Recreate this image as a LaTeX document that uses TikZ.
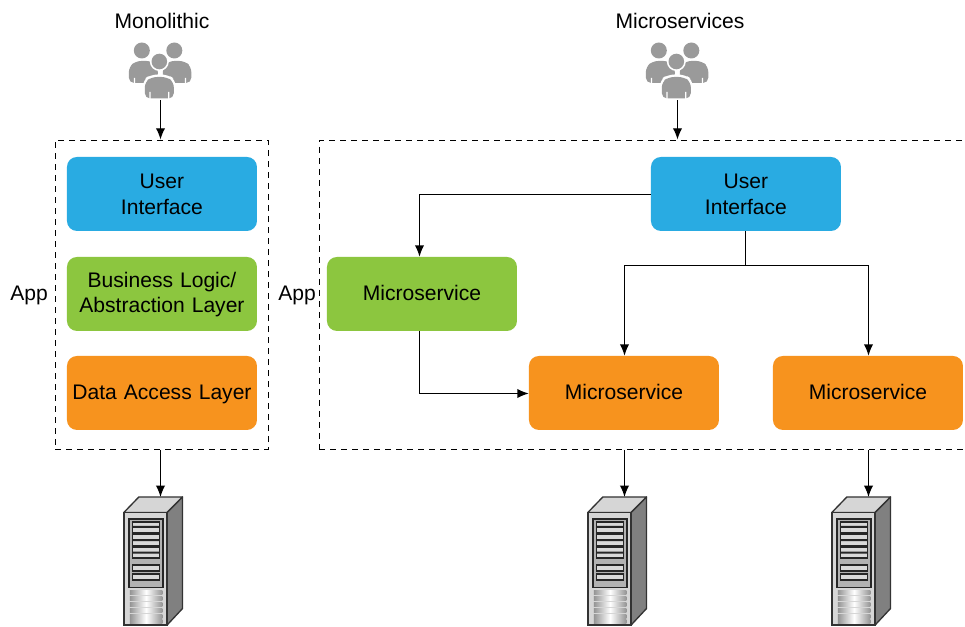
\documentclass[tikz,border=0pt]{standalone}
\usepackage{fontspec}
\setmainfont{Liberation Sans}
\usetikzlibrary{arrows.meta}
\definecolor{bl}{HTML}{29ABE2}
\definecolor{gr}{HTML}{8CC63F}
\definecolor{or}{HTML}{F7931E}
\definecolor{ug}{HTML}{9A9A9A}
\tikzset{
 x=0.75pt,y=-0.75pt,
 every node/.style={font=\fontsize{15.8pt}{19.5pt}\selectfont,align=center,text=black},
 box/.style={rounded corners=7.5pt,minimum width=142.5pt,minimum height=55.5pt,inner sep=0pt,anchor=north west,text width=140pt},
 oneline/.style={text height=12.5pt,text depth=3.4pt},
 lab/.style={inner sep=0pt},
 anchorbox/.style={inner sep=0pt,minimum size=0pt},
 frame/.style={draw=black,dash pattern=on 4.5pt off 3.75pt,line width=0.9pt},
 conn/.style={draw=black,line width=1pt,-{Latex[length=8.5pt,width=7pt]}},
 plainconn/.style={draw=black,line width=1pt},
 pics/crowd/.style={code={
  \fill[ug] (-18,-19.5) circle (8);
  \fill[ug] (14.5,-19.5) circle (8);
  \fill[ug,rounded corners=4pt] (-31,13) -- (-31,-3) -- (-24,-9) -- (-8,-9) -- (-2,-3) -- (-2,13) -- cycle;
  \fill[ug,rounded corners=4pt] (31.5,13) -- (31.5,-3) -- (25,-9) -- (9,-9) -- (3,-3) -- (3,13) -- cycle;
  \fill[white] (-0.5,-8.5) circle (9.5);
  \fill[ug] (-0.5,-8.5) circle (7.8);
  \fill[white,rounded corners=5pt] (-17,30) -- (-17,10) -- (-9,4.5) -- (8,4.5) -- (16,10) -- (16,30) -- cycle;
  \fill[ug,rounded corners=4pt] (-15,28.5) -- (-15,12) -- (-8,7) -- (7,7) -- (14,12) -- (14,28.5) -- cycle;
  \fill[white] (-10.5,22) rectangle (-9.3,29) (8.3,22) rectangle (9.5,29);
  \fill[white] (-26,8) rectangle (-24.8,14) (25,8) rectangle (26.2,14);
 }},
 pics/tower/.style={code={
  \filldraw[fill=black!16,draw=black!80,line width=1pt,line join=round] (-36,15.5) -- (-21,0) -- (22.7,0) -- (7.3,15.5) -- cycle;
  \filldraw[fill=black!50,draw=black!80,line width=1pt,line join=round] (7.3,15.5) -- (22.7,0) -- (22.7,111.5) -- (7.3,128) -- cycle;
  \filldraw[fill=black!16,draw=black!80,line width=1.3pt] (-36,15.5) rectangle (7.3,128);
  \filldraw[fill=black!30,draw=black!85,line width=1pt] (-31,22) rectangle (3.3,90.5);
  \foreach \a/\b in {25/36,37.5/48.5,50/61,68/74,77/83}{
   \filldraw[fill=black!15,draw=black!85,line width=0.9pt] (-27.5,\a) rectangle (0,\b);
  }
  \fill[black!85] (-27.5,29) rectangle (0,31) (-27.5,42) rectangle (0,44) (-27.5,54.5) rectangle (0,56.5);
  \foreach \a in {93,99,105,111,117,122.5}{
   \fill[left color=black!42,right color=black!42,middle color=white] (-30,\a) rectangle (2.5,\a+4);
  }
 }}
}
\begin{document}
\begin{tikzpicture}
\useasboundingbox (0,0) rectangle (965,627);
\fill[white] (0,0) rectangle (965,627);
% frames
\node[frame,anchorbox,minimum width=159.75pt,minimum height=231.75pt,anchor=north west] (f1) at (54.6,139.6) {};
\node[frame,anchorbox,minimum width=488pt,minimum height=231.75pt,anchor=north west] (f2) at (318.6,139.6) {};
% left boxes
\node[box,fill=bl] (lu) at (66.7,156.7) {User\\Interface};
\node[box,fill=gr] (lb) at (66.7,256.7) {\rule{0pt}{13pt}Business Logic/\\[-0.75pt]Abstraction Layer};
\node[box,fill=or,oneline] (ld) at (66.7,355.7) {Data Access Layer};
% right boxes
\node[box,fill=bl] (ru) at (650.7,156.7) {User\\Interface};
\node[box,fill=gr,oneline] (rg) at (326.7,256.7) {Microservice};
\node[box,fill=or,oneline] (ra) at (528.7,355.7) {Microservice};
\node[box,fill=or,oneline] (rb) at (772.7,355.7) {Microservice};
% labels
\node[lab] (t1) at (162,21) {Monolithic};
\node[lab] (t2) at (680,21) {Microservices};
\node[lab] (a1) at (29,295) {App};
\node[lab] (a2) at (297,295) {App};
% icons
\node[anchorbox,minimum width=46pt,minimum height=45pt] (u1) at (160.5,70) {};
\node[anchorbox,minimum width=46pt,minimum height=45pt] (u2) at (677.5,70) {};
\pic at ([xshift=-0.5pt]u1) {crowd};
\pic at ([xshift=-0.5pt]u2) {crowd};
\node[anchorbox,minimum width=44pt,minimum height=96pt,anchor=north] (s1) at (160.5,497) {};
\node[anchorbox,minimum width=44pt,minimum height=96pt,anchor=north] (s2) at (624.5,497) {};
\node[anchorbox,minimum width=44pt,minimum height=96pt,anchor=north] (s3) at (868.5,497) {};
\pic at ([xshift=-0.5pt]s1.north) {tower};
\pic at ([xshift=-0.5pt]s2.north) {tower};
\pic at ([xshift=-0.5pt]s3.north) {tower};
% connectors
\draw[conn] (u1.south) -- (u1 |- f1.north);
\draw[conn] (u2.south) -- (u2 |- f2.north);
\draw[conn] (s1 |- f1.south) -- (s1.north);
\draw[conn] (s2 |- f2.south) -- (s2.north);
\draw[conn] (s3 |- f2.south) -- (s3.north);
\coordinate (m) at (419.5,256);
\coordinate (h) at (500,194.5);
\draw[conn] (ru.west |- h) -| (m |- rg.north);
\coordinate (j) at (745.5,265.5);
\draw[plainconn] (ru.south -| j) -- (j);
\draw[conn] (j) -| (s2 |- ra.north);
\draw[conn] (j) -| (s3 |- rb.north);
\coordinate (k) at (419.5,393.5);
\draw[conn] (k |- rg.south) -- (k) -- (ra.west |- k);
\end{tikzpicture}
\end{document}
